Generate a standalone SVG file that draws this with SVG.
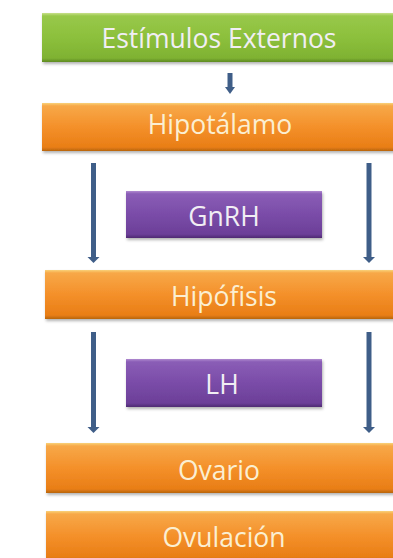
<svg xmlns="http://www.w3.org/2000/svg" width="393" height="558" viewBox="0 0 393 558">
<style>
.lbl{font-family:"Open Sans","Liberation Sans",sans-serif;font-size:26.5px;text-anchor:middle;fill:#FBEFD2}
.lblw{font-family:"Open Sans","Liberation Sans",sans-serif;font-size:26.5px;text-anchor:middle;fill:#F1EEF4}
.arr{stroke:#3F5E88;stroke-width:5;fill:none}
.ah{fill:#3F5E88}
</style>
<defs>
<linearGradient id="gOr" x1="0" y1="0" x2="0" y2="1">
<stop offset="0" stop-color="#F9D27A"/>
<stop offset="0.06" stop-color="#F7A848"/>
<stop offset="0.5" stop-color="#F4902A"/>
<stop offset="0.92" stop-color="#E97E16"/>
<stop offset="1" stop-color="#B8650E"/>
</linearGradient>
<linearGradient id="gGr" x1="0" y1="0" x2="0" y2="1">
<stop offset="0" stop-color="#C8E08A"/>
<stop offset="0.06" stop-color="#98C84A"/>
<stop offset="0.5" stop-color="#8CC03C"/>
<stop offset="0.92" stop-color="#7FB232"/>
<stop offset="1" stop-color="#5E8A22"/>
</linearGradient>
<linearGradient id="gPu" x1="0" y1="0" x2="0" y2="1">
<stop offset="0" stop-color="#B08AD0"/>
<stop offset="0.06" stop-color="#8A5DB6"/>
<stop offset="0.5" stop-color="#7A4CA8"/>
<stop offset="0.92" stop-color="#6C3F98"/>
<stop offset="1" stop-color="#4E2A72"/>
</linearGradient>
<filter id="sh" x="-10%" y="-20%" width="120%" height="150%">
<feDropShadow dx="1" dy="2" stdDeviation="1.5" flood-color="#000" flood-opacity="0.3"/>
</filter>
</defs>
<rect width="393" height="558" fill="#FFFFFF"/>

<g id="connectors">
<line class="arr" x1="230" y1="73" x2="230" y2="88"/>
<polygon class="ah" points="225,87 235,87 230,94"/>
<line class="arr" x1="93.5" y1="163" x2="93.5" y2="258"/>
<polygon class="ah" points="87.5,257 99.5,257 93.5,263"/>
<line class="arr" x1="369" y1="163" x2="369" y2="258"/>
<polygon class="ah" points="363,257 375,257 369,263"/>
<line class="arr" x1="93.5" y1="332" x2="93.5" y2="428"/>
<polygon class="ah" points="87.5,427 99.5,427 93.5,433"/>
<line class="arr" x1="369" y1="332" x2="369" y2="428"/>
<polygon class="ah" points="363,427 375,427 369,433"/>
</g>

<g id="estimulos">
<rect x="42" y="13" width="360" height="49" fill="url(#gGr)" filter="url(#sh)"/>
<text class="lblw" x="219" y="48">Estímulos Externos</text>
</g>
<g id="hipotalamo">
<rect x="42" y="103" width="360" height="48" fill="url(#gOr)" filter="url(#sh)"/>
<text class="lbl" x="220" y="134">Hipotálamo</text>
</g>
<g id="gnrh">
<rect x="126" y="191" width="196" height="47" fill="url(#gPu)" filter="url(#sh)"/>
<text class="lblw" x="224" y="226">GnRH</text>
</g>
<g id="hipofisis">
<rect x="45" y="270" width="357" height="49" fill="url(#gOr)" filter="url(#sh)"/>
<text class="lbl" x="224" y="306">Hipófisis</text>
</g>
<g id="lh">
<rect x="126" y="359" width="196" height="48" fill="url(#gPu)" filter="url(#sh)"/>
<text class="lblw" x="222" y="394">LH</text>
</g>
<g id="ovario">
<rect x="46" y="443" width="356" height="50" fill="url(#gOr)" filter="url(#sh)"/>
<text class="lbl" x="219" y="480">Ovario</text>
</g>
<g id="ovulacion">
<rect x="46" y="511" width="356" height="50" fill="url(#gOr)" filter="url(#sh)"/>
<text class="lbl" x="224" y="547">Ovulación</text>
</g>
</svg>
